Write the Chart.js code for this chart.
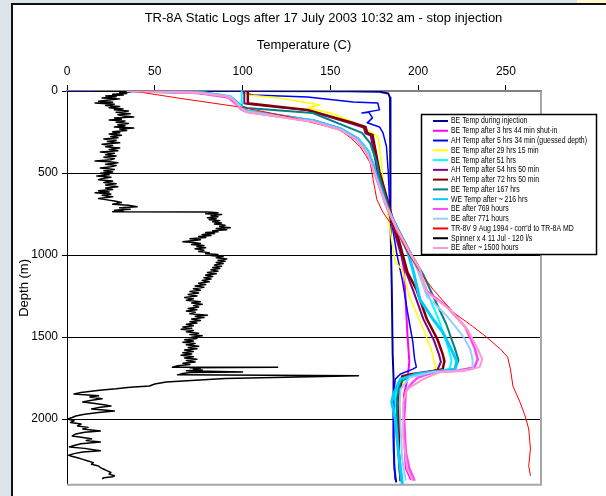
<!DOCTYPE html>
<html>
<head>
<meta charset="utf-8">
<script src="https://cdn.jsdelivr.net/npm/chart.js@4.4.1/dist/chart.umd.min.js"></script>
<style>
html, body { margin: 0; padding: 0; width: 606px; height: 496px; overflow: hidden; background: #fff; }
#strip { position: absolute; left: 0; top: 0; width: 11px; height: 496px; background: #dce6ea; }
#topstrip { position: absolute; left: 0; top: 0; width: 577px; height: 3px; background: #dce6ea; }
#topyellow { position: absolute; left: 577px; top: 0; width: 29px; height: 3px; background: #fff8d0; }
#vline { position: absolute; left: 11px; top: 3px; width: 2px; height: 493px; background: #111; }
#hline { position: absolute; left: 11px; top: 3px; width: 595px; height: 2px; background: #111; }
canvas { position: absolute; left: 0; top: 0; }
</style>
</head>
<body>
<div id="strip"></div>
<div id="topstrip"></div>
<div id="topyellow"></div>
<div id="vline"></div>
<div id="hline"></div>
<canvas id="chart" width="647" height="496"></canvas>
<script>
const chartTitle = 'TR-8A Static Logs after 17 July 2003 10:32 am - stop injection';

// tick labels
const tempTicks = [0, 50, 100, 150, 200, 250];
const depthTicks = [0, 500, 1000, 1500, 2000];

// BE Temp during injection
const injT = [0, 100, 160, 178, 183, 184, 184, 184.5, 185, 185.5, 186, 186, 186.5, 187.5];
const injD = [0, 0.5, 1, 4, 15, 40, 300, 800, 1200, 1600, 1750, 2100, 2300, 2385];

// BE Temp after 3 hrs 44 min shut-in
const be3T = [34, 70, 88, 95, 98, 100, 103, 122, 141, 156, 166, 172, 175, 178, 183, 187, 190, 192, 193, 194, 195, 194, 192, 192, 193, 196];
const be3D = [0, 8, 25, 50, 90, 110, 122, 150, 180, 228, 290, 370, 470, 560, 700, 820, 950, 1100, 1300, 1500, 1650, 1750, 1850, 2100, 2300, 2370];

// AH Temp after 5 hrs 34 min (guessed depth)
const ah5T = [100, 106, 137, 163, 177, 178, 168, 172, 174, 171, 178, 180, 182, 183, 184, 188, 191, 194, 197, 198, 199, 197, 190, 187, 186, 186, 187];
const ah5D = [10, 24, 36, 67, 73, 115, 134, 130, 164, 194, 219, 255, 340, 498, 741, 1000, 1150, 1349, 1531, 1634, 1683, 1695, 1725, 1756, 1850, 2200, 2370];

// BE Temp after 29 hrs 15 min
const be29T = [101, 103, 121, 138, 144, 137, 150, 163, 171, 177, 178, 180, 184, 187, 191, 195, 203, 208, 210, 200, 192, 189, 189, 190];
const be29D = [5, 24, 43, 73, 85, 103, 134, 188, 237, 279, 340, 541, 845, 1045, 1087, 1251, 1452, 1592, 1695, 1730, 1760, 1850, 2200, 2375];

// BE Temp after 51 hrs
const be51T = [99.5, 99.5, 100, 102, 121, 140, 156, 166, 172, 175.5, 177.5, 183, 189, 196, 201, 206, 212, 217, 219, 218, 208, 196, 189, 187, 188, 189, 191];
const be51D = [0, 60, 110, 122, 148, 178, 228, 290, 370, 470, 550, 720, 860, 1000, 1100, 1250, 1400, 1560, 1640, 1695, 1712, 1735, 1780, 1870, 2000, 2200, 2385];

// AH Temp after 54 hrs 50 min
const ah54T = [101, 101, 103, 137, 162, 169, 170, 173, 177, 181, 185, 189, 193, 197, 203, 209, 212, 213, 211, 200, 191, 189, 189, 190];
const ah54D = [0, 75, 80, 118, 198, 222, 258, 272, 500, 650, 800, 950, 1100, 1210, 1390, 1520, 1610, 1650, 1700, 1725, 1745, 1850, 2200, 2375];

// AH Temp after 72 hrs 50 min
const ah72T = [103, 103, 104, 137, 163, 170, 171, 174, 178, 182, 186, 190, 194, 199, 205, 211, 214, 215, 214, 209, 197, 191, 189, 189, 190];
const ah72D = [0, 73, 76, 115, 194, 219, 255, 267, 492, 644, 802, 948, 1106, 1209, 1391, 1513, 1604, 1646, 1695, 1707, 1725, 1738, 1850, 2200, 2375];

// BE Temp after 167 hrs
const be167T = [34, 70, 90, 97, 100, 102.5, 140, 159.5, 168, 172.6, 176.5, 178, 184, 190, 197, 203, 209, 216, 221, 223, 221, 210, 197, 190, 188, 188, 189, 190];
const be167D = [0, 8, 30, 70, 95, 103, 134, 219, 255, 316, 437, 522, 741, 870, 1010, 1120, 1260, 1420, 1570, 1640, 1695, 1710, 1730, 1770, 1870, 2000, 2250, 2380];

// WE Temp after ~ 216 hrs
const we216T = [34, 78, 93, 98, 100, 103, 121, 140, 155, 165, 171, 175, 177, 182, 188, 194, 197, 201, 208.5, 214, 218, 221, 222, 221, 212.5, 199.5, 190, 186, 185, 187, 188.6, 191];
const we216D = [0, 10, 35, 80, 105, 122, 150, 182, 230, 292, 372, 472, 540, 700, 840, 980, 1087, 1270, 1391, 1470, 1555, 1622, 1646, 1695, 1707, 1725, 1756, 1847, 1896, 2000, 2181, 2394];

// BE after 769 hours
const be769T = [34, 75, 92, 97, 99, 102, 121, 140, 155.5, 165, 171, 174.5, 176.5, 182, 188, 195, 200, 205, 217, 227, 232, 234, 232, 222, 210, 200, 197, 193, 192, 193, 195, 198];
const be769D = [0, 12, 40, 85, 110, 126, 156, 186, 235, 296, 375, 478, 540, 703, 843, 982, 1085, 1220, 1320, 1440, 1560, 1635, 1685, 1705, 1712, 1745, 1774, 1830, 2000, 2200, 2300, 2375];

// BE after 771 hours
const be771T = [34, 76, 93, 98, 100, 102, 121, 140, 155.5, 165, 171, 174.5, 176.5, 182, 188, 195, 199.5, 205, 216.5, 225.7, 229.7, 231, 231, 222, 208.5, 195.5, 190, 189.5, 190, 191, 193];
const be771D = [0, 11, 35, 85, 108, 124, 154, 184, 233, 294, 373, 476, 538, 700, 840, 980, 1087, 1251, 1373, 1495, 1574, 1634, 1695, 1707, 1713, 1744, 1817, 1900, 2050, 2250, 2375];

// TR-8V 9 Aug 1994
const tr8vT = [37.5, 64, 100, 127, 150, 155.6, 162, 167, 170, 172.7, 174.4, 176.5, 180, 184, 190, 194, 200, 208.5, 220, 231, 239, 247, 251, 252.6, 254, 258, 261, 263, 264, 263, 264];
const tr8vD = [0, 44, 100, 158, 220, 237, 290, 340, 390, 437, 541, 662, 740, 802, 900, 984, 1087, 1209, 1349, 1434, 1500, 1574, 1622, 1695, 1798, 1896, 1981, 2060, 2181, 2284, 2345];

// Spinner x 4 11 Jul - 120 l/s
const spinT = [
  15, 33, 36, 30, 34, 26, 32, 22, 28, 20,
  30, 24, 18, 26, 16, 27, 22, 30, 24, 32,
  27, 35, 28, 36, 29, 33, 38, 27, 31, 24,
  33, 28, 35, 29, 33, 27, 38, 30, 34, 26,
  30, 24, 31, 25, 29, 21, 28, 23, 30, 20,
  26, 22, 30, 24, 29, 19, 27, 22, 28, 21,
  27, 25, 16, 24, 29, 22, 28, 25, 19, 27,
  21, 26, 19, 24, 17, 25, 20, 18, 26, 21,
  28, 22, 29, 22, 26, 18, 24, 16, 25, 20,
  26, 18, 22, 27, 31, 26, 35, 40, 30, 36,
  27, 32, 26, 80, 86, 79, 88, 82, 86, 80,
  85, 81, 87, 83, 88, 84, 90, 87, 93, 85,
  91, 83, 86, 79, 84, 77, 82, 75, 79, 70,
  76, 71, 66, 72, 76, 71, 78, 74, 79, 73,
  78, 75, 81, 79, 86, 82, 89, 85, 91, 86,
  90, 85, 89, 84, 88, 83, 87, 82, 86, 80,
  85, 79, 83, 78, 82, 77, 81, 75, 79, 73,
  78, 72, 76, 70, 75, 69, 74, 67, 72, 68,
  76, 71, 77, 72, 75, 69, 74, 68, 73, 70,
  80, 73, 78, 71, 76, 70, 74, 68, 72, 66,
  71, 65, 72, 68, 75, 70, 77, 71, 74, 67,
  72, 66, 73, 68, 75, 69, 74, 67, 72, 66,
  71, 65, 72, 67, 74, 68, 73, 66, 70, 63,
  60, 120, 70, 76, 72, 77, 68, 100, 70, 66,
  63, 166, 90, 56.5, 50, 47, 36, 28, 20, 15,
  8, 4, 12, 18, 13, 20, 14, 9, 16, 21,
  25, 19, 14, 21, 27, 18, 10, 5, 3, 0.5,
  4, 2, 8, 6, 12, 9, 19, 10, 5, 3,
  9, 14, 11, 19, 8, 4, 1.4, 10, 15, 19,
  9, 4, 1, 2, 6, 9, 12, 15, 14, 18,
  19, 21, 23, 25, 24, 27, 26, 21, 20
];
const spinD = [
  0, 0, 5, 10, 15, 20, 25, 30, 35, 42,
  48, 55, 62, 68, 73, 80, 88, 95, 102, 110,
  115, 122, 130, 138, 145, 152, 158, 165, 172, 176,
  183, 190, 198, 205, 212, 219, 226, 232, 240, 248,
  255, 262, 270, 278, 285, 292, 300, 308, 316, 324,
  332, 340, 348, 356, 364, 372, 380, 388, 396, 404,
  412, 419, 426, 431, 438, 446, 454, 462, 470, 478,
  486, 494, 502, 510, 518, 526, 534, 541, 549, 557,
  565, 573, 583, 591, 600, 608, 615, 620, 628, 635,
  645, 655, 662, 670, 680, 690, 697, 705, 712, 720,
  727, 733, 736, 737, 742, 748, 753, 760, 766, 772,
  778, 784, 790, 797, 804, 811, 818, 826, 833, 838,
  845, 852, 858, 863, 869, 875, 881, 887, 893, 900,
  906, 912, 918, 924, 930, 936, 942, 948, 955, 962,
  970, 978, 985, 992, 996, 1003, 1010, 1017, 1024, 1031,
  1038, 1045, 1052, 1060, 1068, 1075, 1082, 1090, 1098, 1106,
  1114, 1122, 1130, 1138, 1146, 1155, 1163, 1171, 1180, 1188,
  1196, 1205, 1214, 1222, 1231, 1240, 1249, 1258, 1266, 1275,
  1284, 1292, 1300, 1308, 1316, 1325, 1333, 1341, 1349, 1358,
  1366, 1373, 1381, 1390, 1398, 1406, 1414, 1422, 1430, 1438,
  1446, 1452, 1460, 1468, 1476, 1484, 1492, 1500, 1508, 1516,
  1524, 1531, 1539, 1547, 1555, 1563, 1571, 1579, 1587, 1595,
  1603, 1611, 1619, 1627, 1635, 1643, 1651, 1659, 1667, 1675,
  1683, 1683, 1686, 1690, 1695, 1700, 1705, 1713, 1716, 1722,
  1730, 1735, 1752, 1774, 1786, 1798, 1806, 1815, 1822, 1829,
  1838, 1847, 1852, 1858, 1865, 1875, 1885, 1896, 1905, 1912,
  1920, 1928, 1938, 1944, 1950, 1960, 1970, 1981, 1990, 1999,
  2010, 2020, 2030, 2041, 2050, 2060, 2072, 2080, 2090, 2102,
  2112, 2120, 2130, 2139, 2150, 2160, 2169, 2178, 2186, 2193,
  2200, 2210, 2220, 2224, 2235, 2245, 2255, 2265, 2275, 2285,
  2295, 2305, 2315, 2325, 2335, 2345, 2351, 2357, 2363
];

// BE after ~ 1500 hours
const be1500T = [34, 60, 76, 90, 95, 98, 100, 102, 121, 140, 155.5, 165, 171, 174.5, 176.5, 182, 188, 195.5, 201, 205, 218, 228, 234, 236.6, 235, 226, 212.5, 203, 193.7, 191.5, 191.5, 193.7, 197];
const be1500D = [0, 6, 12, 30, 55, 97, 115, 128, 158, 188, 237, 298, 377, 480, 541, 705, 845, 984, 1087, 1227, 1330, 1452, 1574, 1634, 1683, 1707, 1713, 1756, 1817, 1896, 2102, 2302, 2375];

const seriesNames = [
  "BE Temp during injection",
  "BE Temp after 3 hrs 44 min shut-in",
  "AH Temp after 5 hrs 34 min (guessed depth)",
  "BE Temp after 29 hrs 15 min",
  "BE Temp after 51 hrs",
  "AH Temp after 54 hrs 50 min",
  "AH Temp after 72 hrs 50 min",
  "BE Temp after 167 hrs",
  "WE Temp after ~ 216 hrs",
  "BE after 769 hours",
  "BE after 771 hours",
  "TR-8V 9 Aug 1994 - corr'd to TR-8A MD",
  "Spinner x 4 11 Jul - 120 l/s",
  "BE after ~ 1500 hours"
];
const seriesTemps = [injT, be3T, ah5T, be29T, be51T, ah54T, ah72T, be167T, we216T, be769T, be771T, tr8vT, spinT, be1500T];
const seriesDepths = [injD, be3D, ah5D, be29D, be51D, ah54D, ah72D, be167D, we216D, be769D, be771D, tr8vD, spinD, be1500D];

const colors = ["#000099", "#ff00ff", "#0000ff", "#ffff00", "#00ffff", "#800080", "#800000",
  "#008080", "#00ccff", "#ff44ff", "#99ccff", "#ff0000", "#000000", "#ff99cc"];
const widths = [2, 2, 1.5, 1.5, 2, 2, 2.5, 2, 3, 2.5, 2, 1, 1.5, 2];

Chart.defaults.font.family = '"Liberation Sans", Arial, sans-serif';
Chart.defaults.color = '#000';

let datasets = seriesNames.map((name, i) => ({
  label: name,
  data: seriesTemps[i].map((t, k) => ({ x: t, y: seriesDepths[i][k] })),
  borderColor: colors[i],
  backgroundColor: colors[i],
  borderWidth: widths[i],
  showLine: true,
  pointRadius: 0,
  fill: false,
  tension: 0,
  borderJoinStyle: 'round',
  order: -i
}));

// title is centred on the original (wider) chart object, not on the plot
const topTitle = {
  id: 'topTitle',
  afterDraw(chart) {
    const ctx = chart.ctx;
    ctx.save();
    ctx.font = '13px "Liberation Sans", Arial, sans-serif';
    ctx.fillStyle = '#000';
    ctx.textAlign = 'center';
    ctx.textBaseline = 'middle';
    ctx.fillText(chartTitle, 323.5, 18.5);
    ctx.restore();
  }
};

const plotFrame = {
  id: 'plotFrame',
  afterDatasetsDraw(chart) {
    const a = chart.chartArea;
    const ctx = chart.ctx;
    ctx.save();
    ctx.strokeStyle = '#a6a6a6';
    ctx.lineWidth = 2;
    ctx.beginPath();
    ctx.moveTo(a.right, a.top);
    ctx.lineTo(a.right, a.bottom);
    ctx.lineTo(a.left, a.bottom);
    ctx.stroke();
    ctx.restore();
  }
};

const boxLegend = {
  id: 'boxLegend',
  afterDraw(chart) {
    const ctx = chart.ctx;
    ctx.save();
    ctx.fillStyle = '#fff';
    ctx.fillRect(421, 114, 175, 141);
    ctx.strokeStyle = '#000';
    ctx.lineWidth = 1.5;
    ctx.strokeRect(421.5, 114.5, 175, 140);
    ctx.font = '9px "Liberation Sans", Arial, sans-serif';
    let sx = 136 / ctx.measureText(seriesNames[2]).width;
    seriesNames.forEach((name, i) => {
      let y = 121 + i * 9.77;
      ctx.strokeStyle = colors[i];
      ctx.lineWidth = 2;
      ctx.beginPath();
      ctx.moveTo(433, y);
      ctx.lineTo(448, y);
      ctx.stroke();
      ctx.fillStyle = '#000';
      ctx.textBaseline = 'middle';
      ctx.save();
      ctx.translate(451, y);
      ctx.scale(sx, 1);
      ctx.fillText(name, 0, 0);
      ctx.restore();
    });
    ctx.restore();
  }
};

new Chart(document.getElementById('chart'), {
  type: 'scatter',
  data: { datasets: datasets },
  plugins: [plotFrame, topTitle, boxLegend],
  options: {
    animation: false,
    responsive: false,
    devicePixelRatio: 1,
    layout: { padding: { left: 14, right: 106, bottom: 10, top: 29.6 } },
    plugins: {
      legend: { display: false },
      tooltip: { enabled: false },
      title: { display: false }
    },
    scales: {
      x: {
        type: 'linear',
        position: 'top',
        min: 0,
        max: 270,
        afterBuildTicks: s => { s.ticks = tempTicks.map(v => ({ value: v })); },
        afterFit: s => { s.height = 61.4; },
        title: { display: true, text: 'Temperature (C)', color: '#000', font: { size: 13 }, padding: { top: 8, bottom: 0 } },
        ticks: { color: '#000', font: { size: 12 }, padding: 6, maxRotation: 0, callback: v => String(v) },
        grid: { drawOnChartArea: false, color: '#000', tickLength: 6 },
        border: { color: '#808080', width: 2 }
      },
      y: {
        type: 'linear',
        reverse: true,
        min: 0,
        max: 2400,
        afterBuildTicks: s => { s.ticks = depthTicks.map(v => ({ value: v })); },
        afterFit: s => { s.width = 53; },
        title: { display: true, text: 'Depth (m)', color: '#000', font: { size: 13 }, padding: { top: 3, bottom: 3 } },
        ticks: { color: '#000', font: { size: 12 }, padding: 4, callback: v => String(v) },
        grid: {
          color: c => (c.tick && c.tick.value === 0) ? 'rgba(0,0,0,0)' : '#000',
          tickColor: '#000',
          tickLength: 5,
          lineWidth: 1
        },
        border: { color: '#000', width: 1 }
      }
    }
  }
});
</script>
</body>
</html>
